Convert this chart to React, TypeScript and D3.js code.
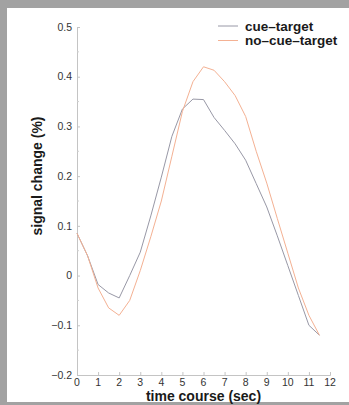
import React, { useEffect, useRef } from "react";
import * as d3 from "d3";

// time samples (sec) and the two response curves (% signal change)
const times = [0, 0.5, 1, 1.5, 2, 2.5, 3, 3.5, 4, 4.5, 5, 5.5, 6, 6.5, 7, 7.5, 8, 8.5, 9, 9.5, 10, 10.5, 11, 11.5];
const cueTarget = [0.085, 0.04, -0.018, -0.035, -0.045, 0.0, 0.047, 0.12, 0.198, 0.28, 0.335, 0.355, 0.354, 0.318, 0.292, 0.265, 0.232, 0.185, 0.138, 0.08, 0.02, -0.04, -0.1, -0.12];
const noCueTarget = [0.085, 0.04, -0.025, -0.065, -0.08, -0.05, 0.01, 0.078, 0.15, 0.24, 0.33, 0.39, 0.42, 0.413, 0.39, 0.362, 0.32, 0.25, 0.186, 0.115, 0.045, -0.025, -0.08, -0.12];

const seriesNames = ["cue–target", "no–cue–target"];
const seriesColors = ["#9898a6", "#f4b193"];

const xTicks = [0, 1, 2, 3, 4, 5, 6, 7, 8, 9, 10, 11, 12];
const yTicks = [-0.2, -0.1, 0, 0.1, 0.2, 0.3, 0.4, 0.5];
const yMinorTicks = [-0.15, -0.05, 0.05, 0.15, 0.25, 0.35, 0.45];

const W = 349;
const H = 405;
const plot = { left: 77, right: 330, top: 27, bottom: 375 };

const App = () => {
  const xAxisRef = useRef<SVGGElement>(null);
  const yAxisRef = useRef<SVGGElement>(null);

  const x = d3.scaleLinear().domain([0, 12]).range([plot.left, plot.right]);
  const y = d3.scaleLinear().domain([-0.2, 0.5]).range([plot.bottom, plot.top]);

  const series = [cueTarget, noCueTarget];
  const line = d3
    .line<number>()
    .x((_, i) => x(times[i]))
    .y((d) => y(d));

  useEffect(() => {
    const fmtY = (d: d3.NumberValue) => (+d === 0 ? "0" : d3.format(".1f")(d));
    const yAxis = d3.axisRight(y).tickValues(yTicks).tickSize(3).tickFormat(() => "");
    const gy = d3.select(yAxisRef.current);
    gy.selectAll("*").remove();
    gy.call(yAxis);
    gy.selectAll("path,line").attr("stroke", "#c4c4c4");
    // minor ticks
    gy.selectAll(".minor")
      .data(yMinorTicks)
      .join("line")
      .attr("class", "minor")
      .attr("x1", 0)
      .attr("x2", 2)
      .attr("y1", (d) => y(d))
      .attr("y2", (d) => y(d))
      .attr("stroke", "#d0d0d0");
    gy.selectAll(".lbl")
      .data(yTicks)
      .join("text")
      .attr("class", "lbl")
      .attr("x", -5)
      .attr("y", (d) => y(d))
      .attr("dy", "0.35em")
      .attr("text-anchor", "end")
      .attr("fill", "#333")
      .attr("font-size", 10.5)
      .text((d) => fmtY(d));

    const xAxis = d3.axisTop(x).tickValues(xTicks).tickSize(3).tickFormat(() => "");
    const gx = d3.select(xAxisRef.current);
    gx.selectAll("*").remove();
    gx.call(xAxis);
    gx.selectAll("path,line").attr("stroke", "#c4c4c4");
    gx.selectAll(".lbl")
      .data(xTicks)
      .join("text")
      .attr("class", "lbl")
      .attr("x", (d) => x(d))
      .attr("y", 10.5)
      .attr("text-anchor", "middle")
      .attr("fill", "#333")
      .attr("font-size", 10.5)
      .text((d) => String(d));
  }, []);

  return (
    <div style={{ position: "fixed", left: 0, top: 0 }}>
      <svg width={W} height={H} style={{ display: "block", fontFamily: "Liberation Sans, Arial, sans-serif" }}>
        <rect x={0} y={0} width={W} height={H} fill="#a2a2a2" />
        <rect x={7} y={8} width={W - 7} height={H - 11} fill="#ffffff" />

        <g ref={yAxisRef} transform={`translate(${plot.left},0)`} />
        <g ref={xAxisRef} transform={`translate(0,${plot.bottom})`} />

        {series.map((s, i) => (
          <path key={i} d={line(s) || ""} fill="none" stroke={seriesColors[i]} strokeWidth={1} />
        ))}

        {/* legend */}
        {seriesNames.map((name, i) => (
          <g key={name} transform={`translate(218,${26 + i * 14.5})`}>
            <line x1={0} x2={20} y1={0} y2={0} stroke={seriesColors[i]} strokeWidth={1} />
            <text x={27} y={0} dy="0.35em" fontSize={13.5} fontWeight="bold" fill="#1a1a1a">
              {name}
            </text>
          </g>
        ))}

        <text x={(plot.left + plot.right) / 2} y={401} textAnchor="middle" fontSize={14} fontWeight="bold" fill="#1a1a1a">
          time course (sec)
        </text>
        <text
          transform={`translate(42,176) rotate(-90)`}
          textAnchor="middle"
          fontSize={14}
          fontWeight="bold"
          fill="#1a1a1a"
        >
          signal change (%)
        </text>
      </svg>
    </div>
  );
};

export default App;
